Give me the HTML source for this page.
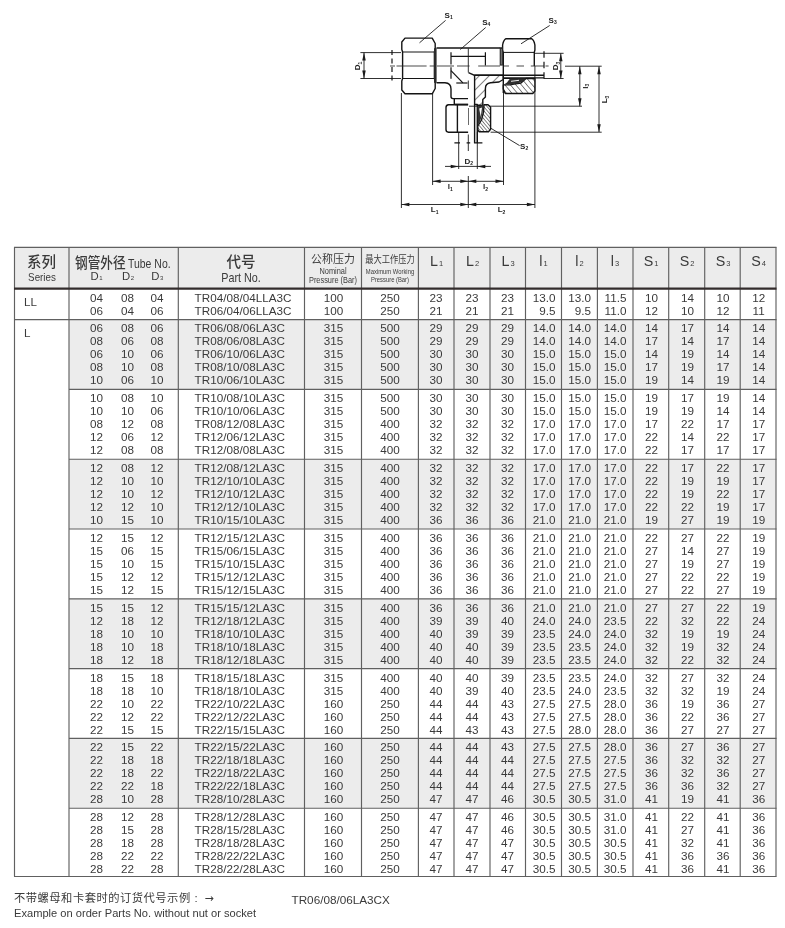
<!DOCTYPE html>
<html lang="zh"><head><meta charset="utf-8"><title>TR Tee</title>
<style>
html,body{margin:0;padding:0;background:#fff;}
body{width:785px;height:928px;overflow:hidden;font-family:"Liberation Sans","Noto Sans CJK SC",sans-serif;color:#3c3c3c;}
#page{position:relative;width:785px;height:928px;overflow:hidden;background:#fff;}
.bg{position:absolute;background:#ececec;}
.vl{position:absolute;width:1.2px;background:#6e6e6e;}
.hl{position:absolute;height:1.2px;background:#6e6e6e;}
.hl.thick{height:2.3px;background:#332c2c;}
.t{position:absolute;font-size:11.7px;line-height:13px;white-space:nowrap;color:#3a3a3a;}
.h{position:absolute;white-space:nowrap;color:#3a3a3a;line-height:1;transform-origin:0 0;}
.hc{position:absolute;white-space:nowrap;color:#3a3a3a;line-height:1;text-align:center;transform-origin:50% 0;}
sub.s{font-size:6px;vertical-align:baseline;margin-left:0.6px;}
.cj{font-family:"Liberation Sans","Noto Sans CJK SC",sans-serif;}
.big{font-size:14.3px;}
sub.s2{font-size:7.5px;vertical-align:baseline;margin-left:1px;}

</style></head><body>
<div id="page">
<svg class="dw" width="785" height="240" viewBox="0 0 785 240" style="position:absolute;left:0;top:0">
<defs>
<pattern id="hat" width="2.6" height="2.6" patternUnits="userSpaceOnUse" patternTransform="rotate(-40)"><rect width="2.6" height="2.6" fill="#fff"/><line x1="0" y1="0" x2="0" y2="2.6" stroke="#222" stroke-width="1.1"/></pattern>
<pattern id="hat3" width="4.2" height="4.2" patternUnits="userSpaceOnUse" patternTransform="rotate(-40)"><rect width="4.2" height="4.2" fill="#fff"/><line x1="0" y1="0" x2="0" y2="4.2" stroke="#222" stroke-width="1.1"/></pattern>
<pattern id="hat2" width="7" height="7" patternUnits="userSpaceOnUse" patternTransform="rotate(45)"><rect width="7" height="7" fill="#fff"/><line x1="0" y1="0" x2="0" y2="7" stroke="#222" stroke-width="1.1"/></pattern>
<path id="ah" d="M0,0 L-8,-1.75 L-8,1.75 Z" fill="#1a1a1a" stroke="none"/>
</defs>
<g fill="none" stroke="#141414" stroke-width="0.9" stroke-linecap="butt" stroke-linejoin="round">
<!-- thin: extension + dimension lines -->
<g stroke-width="0.9" stroke="#1a1a1a">
<line x1="401.4" y1="93" x2="401.4" y2="208"/>
<line x1="432.6" y1="93" x2="432.6" y2="185"/>
<line x1="503.5" y1="66" x2="503.5" y2="185"/>
<line x1="534.9" y1="66" x2="534.9" y2="208"/>
<line x1="468.3" y1="48.5" x2="468.3" y2="72.5"/>
<line x1="468.3" y1="80.5" x2="468.3" y2="89"/>
<line x1="468.3" y1="108" x2="468.3" y2="152" stroke-dasharray="17 9.5 16.5 20"/>
<line x1="468.3" y1="176" x2="468.3" y2="208"/>
<line x1="401.4" y1="204.5" x2="534.9" y2="204.5"/>
<line x1="432.6" y1="181.3" x2="503.5" y2="181.3"/>
<line x1="445" y1="166.4" x2="491" y2="166.4"/>
<line x1="458.7" y1="132" x2="458.7" y2="169"/>
<line x1="477.3" y1="132" x2="477.3" y2="169"/>
<!-- left D1 -->
<line x1="360.4" y1="52.6" x2="401" y2="52.6"/>
<line x1="360.4" y1="78.5" x2="401" y2="78.5"/>
<line x1="364" y1="52.6" x2="364" y2="78.5"/>
<!-- right D3 -->
<line x1="535" y1="53.3" x2="563.6" y2="53.3"/>
<line x1="544" y1="78.5" x2="563.6" y2="78.5"/>
<line x1="560.8" y1="53.3" x2="560.8" y2="78.5"/>
<!-- right l3 L3 -->
<line x1="565" y1="66.2" x2="601.7" y2="66.2"/>
<line x1="579.8" y1="66.2" x2="579.8" y2="106.3"/>
<line x1="599" y1="66.2" x2="599" y2="132"/>
<line x1="469" y1="106.2" x2="582" y2="106.2"/>
<line x1="490.6" y1="132.2" x2="601.7" y2="132.2"/>

</g>
<!-- tube end dashes -->
<g stroke-width="1.2">
<line x1="392" y1="50" x2="392" y2="82" stroke-dasharray="5 3.5"/>
<line x1="544" y1="51.2" x2="544" y2="81" stroke-dasharray="6.5 4"/>
<path d="M454.4,142.9 H460 M466.6,142.9 H470.2 M477.8,142.9 H482.4"/>
</g>
<!-- left nut -->
<g stroke-width="1.4" fill="#fff">
<path d="M405,38.1 H432.2 L435.2,43.5 V49.5 L434.4,52 L434.4,78.5 L435.2,81 V88.5 L432.2,93.8 H405 L401.8,90 V81 L402.6,78.5 V52 L401.8,49.5 V42 Z"/>
<line x1="402.4" y1="52" x2="434.4" y2="52" stroke-width="1"/>
<line x1="402.4" y1="78.5" x2="434.4" y2="78.5" stroke-width="1"/>
</g>
<line x1="435.3" y1="48.2" x2="435.3" y2="82.8" stroke-width="2.6" stroke="#2a2a2a"/>
<!-- body outline -->
<g stroke-width="1.4">
<path d="M436.5,48 H500"/>
<path d="M436.5,82.8 H445 Q451,83.2 451,89 V96.5 Q451,98.6 453,98.6 H468"/>
<path d="M454.3,98.6 V104.2"/>
<!-- bore / section lines -->
<path d="M468.5,72.6 L474,75.2 H544"/>
<path d="M503.3,77.9 H544"/>
<path d="M474.6,104 V142.9 H477.3 V104"/>
</g>
<!-- hidden lines -->
<g stroke-width="1.2">
<path d="M451,52.2 V64.6 M451,67.2 V78.7 M485.4,52.2 V65.5" />
<path d="M451,56.3 H485.4"/>
<path d="M451,70.6 L462.9,82.8"/>
<path d="M456.3,83 H467.5"/>
</g>
<!-- hatched body section -->
<path d="M474.6,75.2 H503.3 V79.5 L499,82 L490.5,82.8 Q485.4,83.4 485.4,88.5 V97.1 L482.8,99.5 V105.2 H477.3 V104.5 H474.6 Z" fill="url(#hat2)" stroke-width="1.4"/>
<!-- right nut upper (external) -->
<g stroke-width="1.4" fill="#fff">
<path d="M503.3,66 V52.4 L502.6,50 V45 Q503.5,40 506,38.7 H531.5 Q534,40 534.9,45 V50 L534.3,52.4 V66"/>
<line x1="503.3" y1="52.4" x2="534.3" y2="52.4" stroke-width="1"/>
</g>
<line x1="501.3" y1="47.2" x2="501.3" y2="65.6" stroke-width="3.2" stroke="#2a2a2a"/>
<line x1="501.3" y1="49" x2="501.3" y2="64.5" stroke-width="0.5" stroke="#ddd"/>
<!-- right nut lower (section) -->
<path d="M503.3,84.9 L510,84.9 L514,84 L521,83 L526,78.5 H534.9 V91 L532.8,93.5 H505.3 L503.3,89 Z" fill="url(#hat3)" stroke-width="1.4"/>
<path d="M503.3,78.5 H526" stroke-width="1"/>
<path d="M510,78.6 L525.7,78.6 L522,82 L517,83.6 L509,84.6 L504,84.4 L507,82.5 Z" fill="#2e2e2e" stroke="none"/>
<path d="M511,81.3 L519,80.3" stroke="#fff" stroke-width="0.9"/>
<path d="M503.3,66 V93" stroke-width="1.4"/>
<!-- bottom nut left (external) -->
<g stroke-width="1.4" fill="#fff">
<path d="M448.5,104.7 H468.1 V132.2 H448.5 Q446,132 446,129.5 V107.5 Q446,105 448.5,104.7 Z" stroke="none"/>
<path d="M468.1,104.7 H448.5 Q446,105 446,107.5 V129.5 Q446,132 448.5,132.2 H468.1" fill="none"/>
<line x1="457.4" y1="104.7" x2="457.4" y2="132.2"/>
<path d="M455,104.4 H468.1" stroke-width="1.6"/>
</g>
<!-- bottom nut right (section) -->
<path d="M484,104.7 H488 L490.6,107.2 V129.2 L488.5,131.7 H479 L477.8,130 V126 L481.5,120 L483.5,112 Z" fill="url(#hat)" stroke-width="1.4"/>
<path d="M477.5,106.5 L483.6,105 L482.6,113 L480.2,121 L477.8,125.6 Z" fill="#333" stroke="none"/>
<path d="M479.2,108.5 L480.7,117 L482,107.5 Z" fill="#fff" stroke="none"/>
<!-- centerline -->
<g stroke-width="0.85" stroke="#2a2a2a">
<path d="M390,66 H395 M396.5,66 H426.6 M429.7,66 H435.8 M437,66 H454 M457,66 H469.6 M478.2,66 H500 M503.5,66 H509 M516.5,66 H524 M530.8,66 H544 M545.5,66 H548.6"/>
</g>
<!-- leaders -->
<g stroke-width="0.9" stroke="#1a1a1a">
<line x1="445.6" y1="20.4" x2="419.5" y2="42.8"/>
<line x1="485.7" y1="27.5" x2="460.3" y2="49.5"/>
<line x1="549.7" y1="25.5" x2="521" y2="43.8"/>
<line x1="519.6" y1="145.6" x2="490.6" y2="128.1"/>
</g>
</g>
<!-- arrowheads -->
<g>
<use href="#ah" transform="translate(401.4,204.5) rotate(180)"/>
<use href="#ah" transform="translate(468.3,204.5)"/>
<use href="#ah" transform="translate(468.3,204.5) rotate(180)"/>
<use href="#ah" transform="translate(534.9,204.5)"/>
<use href="#ah" transform="translate(432.6,181.3) rotate(180)"/>
<use href="#ah" transform="translate(468.3,181.3)"/>
<use href="#ah" transform="translate(468.3,181.3) rotate(180)"/>
<use href="#ah" transform="translate(503.5,181.3)"/>
<use href="#ah" transform="translate(458.7,166.4)"/>
<use href="#ah" transform="translate(477.3,166.4) rotate(180)"/>
<use href="#ah" transform="translate(364,52.6) rotate(-90)"/>
<use href="#ah" transform="translate(364,78.5) rotate(90)"/>
<use href="#ah" transform="translate(560.8,53.3) rotate(-90)"/>
<use href="#ah" transform="translate(560.8,78.5) rotate(90)"/>
<use href="#ah" transform="translate(579.8,66.2) rotate(-90)"/>
<use href="#ah" transform="translate(579.8,106.3) rotate(90)"/>
<use href="#ah" transform="translate(599,66.2) rotate(-90)"/>
<use href="#ah" transform="translate(599,132.2) rotate(90)"/>
</g>
<!-- labels -->
<g font-family="Liberation Sans, sans-serif" font-weight="700" font-size="8" fill="#222" text-anchor="middle">
<text x="448.6" y="17.8">S<tspan font-size="5" dy="1.6">1</tspan></text>
<text x="486.2" y="24.7">S<tspan font-size="5" dy="1.6">4</tspan></text>
<text x="552.6" y="22.5">S<tspan font-size="5" dy="1.6">3</tspan></text>
<text x="524.1" y="148.8">S<tspan font-size="5" dy="1.6">2</tspan></text>
<text x="468.7" y="163.6">D<tspan font-size="5" dy="1.6">2</tspan></text>
<text x="450.3" y="189.4">l<tspan font-size="5" dy="1.6">1</tspan></text>
<text x="485.4" y="189.4">l<tspan font-size="5" dy="1.6">2</tspan></text>
<text x="434.6" y="212.3">L<tspan font-size="5" dy="1.6">1</tspan></text>
<text x="501.5" y="212.3">L<tspan font-size="5" dy="1.6">2</tspan></text>
<text transform="translate(360.3,66) rotate(-90)">D<tspan font-size="5" dy="1.6">1</tspan></text>
<text transform="translate(558,66) rotate(-90)">D<tspan font-size="5" dy="1.6">3</tspan></text>
<text transform="translate(587.7,86.3) rotate(-90)">l<tspan font-size="5" dy="1.6">3</tspan></text>
<text transform="translate(607,99.5) rotate(-90)">L<tspan font-size="5" dy="1.6">3</tspan></text>
</g>
</svg>

<div class="bg" style="left:14.5px;top:247.3px;width:761.5px;height:41.30000000000001px"></div>
<div class="bg" style="left:69px;top:319.6px;width:707px;height:69.80000000000001px"></div>
<div class="bg" style="left:69px;top:459.20000000000005px;width:707px;height:69.79999999999995px"></div>
<div class="bg" style="left:69px;top:598.8px;width:707px;height:69.80000000000007px"></div>
<div class="bg" style="left:69px;top:738.4px;width:707px;height:69.80000000000007px"></div>
<div class="t" style="top:291.45px;left:66.4px;width:60px;text-align:center">04<br>06</div>
<div class="t" style="top:291.45px;left:97.4px;width:60px;text-align:center">08<br>04</div>
<div class="t" style="top:291.45px;left:127px;width:60px;text-align:center">04<br>06</div>
<div class="t" style="top:291.45px;left:194.6px;text-align:left">TR04/08/04LLA3C<br>TR06/04/06LLA3C</div>
<div class="t" style="top:291.45px;left:303.4px;width:60px;text-align:center">100<br>100</div>
<div class="t" style="top:291.45px;left:359.9px;width:60px;text-align:center">250<br>250</div>
<div class="t" style="top:291.45px;left:406px;width:60px;text-align:center">23<br>21</div>
<div class="t" style="top:291.45px;left:442px;width:60px;text-align:center">23<br>21</div>
<div class="t" style="top:291.45px;left:477.5px;width:60px;text-align:center">23<br>21</div>
<div class="t" style="top:291.45px;left:495.5px;width:60px;text-align:right">13.0<br>9.5</div>
<div class="t" style="top:291.45px;left:531.1px;width:60px;text-align:right">13.0<br>9.5</div>
<div class="t" style="top:291.45px;left:566.4px;width:60px;text-align:right">11.5<br>11.0</div>
<div class="t" style="top:291.45px;left:621.5px;width:60px;text-align:center">10<br>12</div>
<div class="t" style="top:291.45px;left:657.4px;width:60px;text-align:center">14<br>10</div>
<div class="t" style="top:291.45px;left:693px;width:60px;text-align:center">10<br>12</div>
<div class="t" style="top:291.45px;left:728.7px;width:60px;text-align:center">12<br>11</div>
<div class="t" style="top:321.45px;left:66.4px;width:60px;text-align:center">06<br>08<br>06<br>08<br>10</div>
<div class="t" style="top:321.45px;left:97.4px;width:60px;text-align:center">08<br>06<br>10<br>10<br>06</div>
<div class="t" style="top:321.45px;left:127px;width:60px;text-align:center">06<br>08<br>06<br>08<br>10</div>
<div class="t" style="top:321.45px;left:194.6px;text-align:left">TR06/08/06LA3C<br>TR08/06/08LA3C<br>TR06/10/06LA3C<br>TR08/10/08LA3C<br>TR10/06/10LA3C</div>
<div class="t" style="top:321.45px;left:303.4px;width:60px;text-align:center">315<br>315<br>315<br>315<br>315</div>
<div class="t" style="top:321.45px;left:359.9px;width:60px;text-align:center">500<br>500<br>500<br>500<br>500</div>
<div class="t" style="top:321.45px;left:406px;width:60px;text-align:center">29<br>29<br>30<br>30<br>30</div>
<div class="t" style="top:321.45px;left:442px;width:60px;text-align:center">29<br>29<br>30<br>30<br>30</div>
<div class="t" style="top:321.45px;left:477.5px;width:60px;text-align:center">29<br>29<br>30<br>30<br>30</div>
<div class="t" style="top:321.45px;left:495.5px;width:60px;text-align:right">14.0<br>14.0<br>15.0<br>15.0<br>15.0</div>
<div class="t" style="top:321.45px;left:531.1px;width:60px;text-align:right">14.0<br>14.0<br>15.0<br>15.0<br>15.0</div>
<div class="t" style="top:321.45px;left:566.4px;width:60px;text-align:right">14.0<br>14.0<br>15.0<br>15.0<br>15.0</div>
<div class="t" style="top:321.45px;left:621.5px;width:60px;text-align:center">14<br>17<br>14<br>17<br>19</div>
<div class="t" style="top:321.45px;left:657.4px;width:60px;text-align:center">17<br>14<br>19<br>19<br>14</div>
<div class="t" style="top:321.45px;left:693px;width:60px;text-align:center">14<br>17<br>14<br>17<br>19</div>
<div class="t" style="top:321.45px;left:728.7px;width:60px;text-align:center">14<br>14<br>14<br>14<br>14</div>
<div class="t" style="top:391.45px;left:66.4px;width:60px;text-align:center">10<br>10<br>08<br>12<br>12</div>
<div class="t" style="top:391.45px;left:97.4px;width:60px;text-align:center">08<br>10<br>12<br>06<br>08</div>
<div class="t" style="top:391.45px;left:127px;width:60px;text-align:center">10<br>06<br>08<br>12<br>08</div>
<div class="t" style="top:391.45px;left:194.6px;text-align:left">TR10/08/10LA3C<br>TR10/10/06LA3C<br>TR08/12/08LA3C<br>TR12/06/12LA3C<br>TR12/08/08LA3C</div>
<div class="t" style="top:391.45px;left:303.4px;width:60px;text-align:center">315<br>315<br>315<br>315<br>315</div>
<div class="t" style="top:391.45px;left:359.9px;width:60px;text-align:center">500<br>500<br>400<br>400<br>400</div>
<div class="t" style="top:391.45px;left:406px;width:60px;text-align:center">30<br>30<br>32<br>32<br>32</div>
<div class="t" style="top:391.45px;left:442px;width:60px;text-align:center">30<br>30<br>32<br>32<br>32</div>
<div class="t" style="top:391.45px;left:477.5px;width:60px;text-align:center">30<br>30<br>32<br>32<br>32</div>
<div class="t" style="top:391.45px;left:495.5px;width:60px;text-align:right">15.0<br>15.0<br>17.0<br>17.0<br>17.0</div>
<div class="t" style="top:391.45px;left:531.1px;width:60px;text-align:right">15.0<br>15.0<br>17.0<br>17.0<br>17.0</div>
<div class="t" style="top:391.45px;left:566.4px;width:60px;text-align:right">15.0<br>15.0<br>17.0<br>17.0<br>17.0</div>
<div class="t" style="top:391.45px;left:621.5px;width:60px;text-align:center">19<br>19<br>17<br>22<br>22</div>
<div class="t" style="top:391.45px;left:657.4px;width:60px;text-align:center">17<br>19<br>22<br>14<br>17</div>
<div class="t" style="top:391.45px;left:693px;width:60px;text-align:center">19<br>14<br>17<br>22<br>17</div>
<div class="t" style="top:391.45px;left:728.7px;width:60px;text-align:center">14<br>14<br>17<br>17<br>17</div>
<div class="t" style="top:461.45px;left:66.4px;width:60px;text-align:center">12<br>12<br>12<br>12<br>10</div>
<div class="t" style="top:461.45px;left:97.4px;width:60px;text-align:center">08<br>10<br>10<br>12<br>15</div>
<div class="t" style="top:461.45px;left:127px;width:60px;text-align:center">12<br>10<br>12<br>10<br>10</div>
<div class="t" style="top:461.45px;left:194.6px;text-align:left">TR12/08/12LA3C<br>TR12/10/10LA3C<br>TR12/10/12LA3C<br>TR12/12/10LA3C<br>TR10/15/10LA3C</div>
<div class="t" style="top:461.45px;left:303.4px;width:60px;text-align:center">315<br>315<br>315<br>315<br>315</div>
<div class="t" style="top:461.45px;left:359.9px;width:60px;text-align:center">400<br>400<br>400<br>400<br>400</div>
<div class="t" style="top:461.45px;left:406px;width:60px;text-align:center">32<br>32<br>32<br>32<br>36</div>
<div class="t" style="top:461.45px;left:442px;width:60px;text-align:center">32<br>32<br>32<br>32<br>36</div>
<div class="t" style="top:461.45px;left:477.5px;width:60px;text-align:center">32<br>32<br>32<br>32<br>36</div>
<div class="t" style="top:461.45px;left:495.5px;width:60px;text-align:right">17.0<br>17.0<br>17.0<br>17.0<br>21.0</div>
<div class="t" style="top:461.45px;left:531.1px;width:60px;text-align:right">17.0<br>17.0<br>17.0<br>17.0<br>21.0</div>
<div class="t" style="top:461.45px;left:566.4px;width:60px;text-align:right">17.0<br>17.0<br>17.0<br>17.0<br>21.0</div>
<div class="t" style="top:461.45px;left:621.5px;width:60px;text-align:center">22<br>22<br>22<br>22<br>19</div>
<div class="t" style="top:461.45px;left:657.4px;width:60px;text-align:center">17<br>19<br>19<br>22<br>27</div>
<div class="t" style="top:461.45px;left:693px;width:60px;text-align:center">22<br>19<br>22<br>19<br>19</div>
<div class="t" style="top:461.45px;left:728.7px;width:60px;text-align:center">17<br>17<br>17<br>17<br>19</div>
<div class="t" style="top:531.45px;left:66.4px;width:60px;text-align:center">12<br>15<br>15<br>15<br>15</div>
<div class="t" style="top:531.45px;left:97.4px;width:60px;text-align:center">15<br>06<br>10<br>12<br>12</div>
<div class="t" style="top:531.45px;left:127px;width:60px;text-align:center">12<br>15<br>15<br>12<br>15</div>
<div class="t" style="top:531.45px;left:194.6px;text-align:left">TR12/15/12LA3C<br>TR15/06/15LA3C<br>TR15/10/15LA3C<br>TR15/12/12LA3C<br>TR15/12/15LA3C</div>
<div class="t" style="top:531.45px;left:303.4px;width:60px;text-align:center">315<br>315<br>315<br>315<br>315</div>
<div class="t" style="top:531.45px;left:359.9px;width:60px;text-align:center">400<br>400<br>400<br>400<br>400</div>
<div class="t" style="top:531.45px;left:406px;width:60px;text-align:center">36<br>36<br>36<br>36<br>36</div>
<div class="t" style="top:531.45px;left:442px;width:60px;text-align:center">36<br>36<br>36<br>36<br>36</div>
<div class="t" style="top:531.45px;left:477.5px;width:60px;text-align:center">36<br>36<br>36<br>36<br>36</div>
<div class="t" style="top:531.45px;left:495.5px;width:60px;text-align:right">21.0<br>21.0<br>21.0<br>21.0<br>21.0</div>
<div class="t" style="top:531.45px;left:531.1px;width:60px;text-align:right">21.0<br>21.0<br>21.0<br>21.0<br>21.0</div>
<div class="t" style="top:531.45px;left:566.4px;width:60px;text-align:right">21.0<br>21.0<br>21.0<br>21.0<br>21.0</div>
<div class="t" style="top:531.45px;left:621.5px;width:60px;text-align:center">22<br>27<br>27<br>27<br>27</div>
<div class="t" style="top:531.45px;left:657.4px;width:60px;text-align:center">27<br>14<br>19<br>22<br>22</div>
<div class="t" style="top:531.45px;left:693px;width:60px;text-align:center">22<br>27<br>27<br>22<br>27</div>
<div class="t" style="top:531.45px;left:728.7px;width:60px;text-align:center">19<br>19<br>19<br>19<br>19</div>
<div class="t" style="top:601.45px;left:66.4px;width:60px;text-align:center">15<br>12<br>18<br>18<br>18</div>
<div class="t" style="top:601.45px;left:97.4px;width:60px;text-align:center">15<br>18<br>10<br>10<br>12</div>
<div class="t" style="top:601.45px;left:127px;width:60px;text-align:center">12<br>12<br>10<br>18<br>18</div>
<div class="t" style="top:601.45px;left:194.6px;text-align:left">TR15/15/12LA3C<br>TR12/18/12LA3C<br>TR18/10/10LA3C<br>TR18/10/18LA3C<br>TR18/12/18LA3C</div>
<div class="t" style="top:601.45px;left:303.4px;width:60px;text-align:center">315<br>315<br>315<br>315<br>315</div>
<div class="t" style="top:601.45px;left:359.9px;width:60px;text-align:center">400<br>400<br>400<br>400<br>400</div>
<div class="t" style="top:601.45px;left:406px;width:60px;text-align:center">36<br>39<br>40<br>40<br>40</div>
<div class="t" style="top:601.45px;left:442px;width:60px;text-align:center">36<br>39<br>39<br>40<br>40</div>
<div class="t" style="top:601.45px;left:477.5px;width:60px;text-align:center">36<br>40<br>39<br>39<br>39</div>
<div class="t" style="top:601.45px;left:495.5px;width:60px;text-align:right">21.0<br>24.0<br>23.5<br>23.5<br>23.5</div>
<div class="t" style="top:601.45px;left:531.1px;width:60px;text-align:right">21.0<br>24.0<br>24.0<br>23.5<br>23.5</div>
<div class="t" style="top:601.45px;left:566.4px;width:60px;text-align:right">21.0<br>23.5<br>24.0<br>24.0<br>24.0</div>
<div class="t" style="top:601.45px;left:621.5px;width:60px;text-align:center">27<br>22<br>32<br>32<br>32</div>
<div class="t" style="top:601.45px;left:657.4px;width:60px;text-align:center">27<br>32<br>19<br>19<br>22</div>
<div class="t" style="top:601.45px;left:693px;width:60px;text-align:center">22<br>22<br>19<br>32<br>32</div>
<div class="t" style="top:601.45px;left:728.7px;width:60px;text-align:center">19<br>24<br>24<br>24<br>24</div>
<div class="t" style="top:671.45px;left:66.4px;width:60px;text-align:center">18<br>18<br>22<br>22<br>22</div>
<div class="t" style="top:671.45px;left:97.4px;width:60px;text-align:center">15<br>18<br>10<br>12<br>15</div>
<div class="t" style="top:671.45px;left:127px;width:60px;text-align:center">18<br>10<br>22<br>22<br>15</div>
<div class="t" style="top:671.45px;left:194.6px;text-align:left">TR18/15/18LA3C<br>TR18/18/10LA3C<br>TR22/10/22LA3C<br>TR22/12/22LA3C<br>TR22/15/15LA3C</div>
<div class="t" style="top:671.45px;left:303.4px;width:60px;text-align:center">315<br>315<br>160<br>160<br>160</div>
<div class="t" style="top:671.45px;left:359.9px;width:60px;text-align:center">400<br>400<br>250<br>250<br>250</div>
<div class="t" style="top:671.45px;left:406px;width:60px;text-align:center">40<br>40<br>44<br>44<br>44</div>
<div class="t" style="top:671.45px;left:442px;width:60px;text-align:center">40<br>39<br>44<br>44<br>43</div>
<div class="t" style="top:671.45px;left:477.5px;width:60px;text-align:center">39<br>40<br>43<br>43<br>43</div>
<div class="t" style="top:671.45px;left:495.5px;width:60px;text-align:right">23.5<br>23.5<br>27.5<br>27.5<br>27.5</div>
<div class="t" style="top:671.45px;left:531.1px;width:60px;text-align:right">23.5<br>24.0<br>27.5<br>27.5<br>28.0</div>
<div class="t" style="top:671.45px;left:566.4px;width:60px;text-align:right">24.0<br>23.5<br>28.0<br>28.0<br>28.0</div>
<div class="t" style="top:671.45px;left:621.5px;width:60px;text-align:center">32<br>32<br>36<br>36<br>36</div>
<div class="t" style="top:671.45px;left:657.4px;width:60px;text-align:center">27<br>32<br>19<br>22<br>27</div>
<div class="t" style="top:671.45px;left:693px;width:60px;text-align:center">32<br>19<br>36<br>36<br>27</div>
<div class="t" style="top:671.45px;left:728.7px;width:60px;text-align:center">24<br>24<br>27<br>27<br>27</div>
<div class="t" style="top:740.45px;left:66.4px;width:60px;text-align:center">22<br>22<br>22<br>22<br>28</div>
<div class="t" style="top:740.45px;left:97.4px;width:60px;text-align:center">15<br>18<br>18<br>22<br>10</div>
<div class="t" style="top:740.45px;left:127px;width:60px;text-align:center">22<br>18<br>22<br>18<br>28</div>
<div class="t" style="top:740.45px;left:194.6px;text-align:left">TR22/15/22LA3C<br>TR22/18/18LA3C<br>TR22/18/22LA3C<br>TR22/22/18LA3C<br>TR28/10/28LA3C</div>
<div class="t" style="top:740.45px;left:303.4px;width:60px;text-align:center">160<br>160<br>160<br>160<br>160</div>
<div class="t" style="top:740.45px;left:359.9px;width:60px;text-align:center">250<br>250<br>250<br>250<br>250</div>
<div class="t" style="top:740.45px;left:406px;width:60px;text-align:center">44<br>44<br>44<br>44<br>47</div>
<div class="t" style="top:740.45px;left:442px;width:60px;text-align:center">44<br>44<br>44<br>44<br>47</div>
<div class="t" style="top:740.45px;left:477.5px;width:60px;text-align:center">43<br>44<br>44<br>44<br>46</div>
<div class="t" style="top:740.45px;left:495.5px;width:60px;text-align:right">27.5<br>27.5<br>27.5<br>27.5<br>30.5</div>
<div class="t" style="top:740.45px;left:531.1px;width:60px;text-align:right">27.5<br>27.5<br>27.5<br>27.5<br>30.5</div>
<div class="t" style="top:740.45px;left:566.4px;width:60px;text-align:right">28.0<br>27.5<br>27.5<br>27.5<br>31.0</div>
<div class="t" style="top:740.45px;left:621.5px;width:60px;text-align:center">36<br>36<br>36<br>36<br>41</div>
<div class="t" style="top:740.45px;left:657.4px;width:60px;text-align:center">27<br>32<br>32<br>36<br>19</div>
<div class="t" style="top:740.45px;left:693px;width:60px;text-align:center">36<br>32<br>36<br>32<br>41</div>
<div class="t" style="top:740.45px;left:728.7px;width:60px;text-align:center">27<br>27<br>27<br>27<br>36</div>
<div class="t" style="top:810.45px;left:66.4px;width:60px;text-align:center">28<br>28<br>28<br>28<br>28</div>
<div class="t" style="top:810.45px;left:97.4px;width:60px;text-align:center">12<br>15<br>18<br>22<br>22</div>
<div class="t" style="top:810.45px;left:127px;width:60px;text-align:center">28<br>28<br>28<br>22<br>28</div>
<div class="t" style="top:810.45px;left:194.6px;text-align:left">TR28/12/28LA3C<br>TR28/15/28LA3C<br>TR28/18/28LA3C<br>TR28/22/22LA3C<br>TR28/22/28LA3C</div>
<div class="t" style="top:810.45px;left:303.4px;width:60px;text-align:center">160<br>160<br>160<br>160<br>160</div>
<div class="t" style="top:810.45px;left:359.9px;width:60px;text-align:center">250<br>250<br>250<br>250<br>250</div>
<div class="t" style="top:810.45px;left:406px;width:60px;text-align:center">47<br>47<br>47<br>47<br>47</div>
<div class="t" style="top:810.45px;left:442px;width:60px;text-align:center">47<br>47<br>47<br>47<br>47</div>
<div class="t" style="top:810.45px;left:477.5px;width:60px;text-align:center">46<br>46<br>47<br>47<br>47</div>
<div class="t" style="top:810.45px;left:495.5px;width:60px;text-align:right">30.5<br>30.5<br>30.5<br>30.5<br>30.5</div>
<div class="t" style="top:810.45px;left:531.1px;width:60px;text-align:right">30.5<br>30.5<br>30.5<br>30.5<br>30.5</div>
<div class="t" style="top:810.45px;left:566.4px;width:60px;text-align:right">31.0<br>31.0<br>30.5<br>30.5<br>30.5</div>
<div class="t" style="top:810.45px;left:621.5px;width:60px;text-align:center">41<br>41<br>41<br>41<br>41</div>
<div class="t" style="top:810.45px;left:657.4px;width:60px;text-align:center">22<br>27<br>32<br>36<br>36</div>
<div class="t" style="top:810.45px;left:693px;width:60px;text-align:center">41<br>41<br>41<br>36<br>41</div>
<div class="t" style="top:810.45px;left:728.7px;width:60px;text-align:center">36<br>36<br>36<br>36<br>36</div>
<svg class="ln" width="785" height="928" viewBox="0 0 785 928" style="position:absolute;left:0;top:0">
<g stroke="#606060" stroke-width="1.15" fill="none">
<line x1="14.5" y1="247.3" x2="14.5" y2="876.5"/>
<line x1="69" y1="247.3" x2="69" y2="876.5"/>
<line x1="178.3" y1="247.3" x2="178.3" y2="876.5"/>
<line x1="304.5" y1="247.3" x2="304.5" y2="876.5"/>
<line x1="361.5" y1="247.3" x2="361.5" y2="876.5"/>
<line x1="418.4" y1="247.3" x2="418.4" y2="876.5"/>
<line x1="454" y1="247.3" x2="454" y2="876.5"/>
<line x1="490" y1="247.3" x2="490" y2="876.5"/>
<line x1="525.5" y1="247.3" x2="525.5" y2="876.5"/>
<line x1="561.5" y1="247.3" x2="561.5" y2="876.5"/>
<line x1="597.4" y1="247.3" x2="597.4" y2="876.5"/>
<line x1="633" y1="247.3" x2="633" y2="876.5"/>
<line x1="668.7" y1="247.3" x2="668.7" y2="876.5"/>
<line x1="704.7" y1="247.3" x2="704.7" y2="876.5"/>
<line x1="740.2" y1="247.3" x2="740.2" y2="876.5"/>
<line x1="776" y1="247.3" x2="776" y2="876.5"/>
<line x1="14.0" y1="247.3" x2="776.5" y2="247.3"/>
<line x1="14.0" y1="319.6" x2="776.5" y2="319.6"/>
<line x1="69" y1="389.40" x2="776.5" y2="389.40"/>
<line x1="69" y1="459.20" x2="776.5" y2="459.20"/>
<line x1="69" y1="529.00" x2="776.5" y2="529.00"/>
<line x1="69" y1="598.80" x2="776.5" y2="598.80"/>
<line x1="69" y1="668.60" x2="776.5" y2="668.60"/>
<line x1="69" y1="738.40" x2="776.5" y2="738.40"/>
<line x1="69" y1="808.20" x2="776.5" y2="808.20"/>
<line x1="14.0" y1="876.5" x2="776.5" y2="876.5"/>
</g>
<line x1="14.0" y1="288.6" x2="776.5" y2="288.6" stroke="#332c2c" stroke-width="2.3"/>
</svg>
<!-- header labels -->
<div class="hc cj" style="left:11.5px;width:60px;top:254.5px;font-size:14.5px;font-weight:500;">系列</div>
<div class="hc" style="left:11.5px;width:60px;top:272px;font-size:11.4px;transform:scaleX(.86);">Series</div>

<div class="h" style="left:74.5px;top:254.5px;"><span class="cj" style="font-size:14.4px;font-weight:500;display:inline-block;transform:scaleX(.88);transform-origin:0 50%;">钢管外径</span></div>
<div class="h" style="left:127.5px;top:258.3px;font-size:12.6px;transform:scaleX(.83);">Tube No.</div>
<div class="h" style="left:90.5px;top:270.6px;font-size:11.3px;">D<sub class="s">1</sub></div>
<div class="h" style="left:121.9px;top:270.6px;font-size:11.3px;">D<sub class="s">2</sub></div>
<div class="h" style="left:151.3px;top:270.6px;font-size:11.3px;">D<sub class="s">3</sub></div>

<div class="hc cj" style="left:211px;width:60px;top:254.5px;font-size:14.5px;font-weight:500;">代号</div>
<div class="hc" style="left:211px;width:60px;top:272px;font-size:12.4px;transform:scaleX(.87);">Part No.</div>

<div class="hc cj" style="left:293px;width:80px;top:253.5px;font-size:11.3px;font-weight:400;transform:scaleX(.97);">公称压力</div>
<div class="hc" style="left:293px;width:80px;top:266.7px;font-size:8.6px;transform:scaleX(.86);">Nominal</div>
<div class="hc" style="left:293px;width:80px;top:276px;font-size:8.6px;transform:scaleX(.86);">Pressure (Bar)</div>

<div class="hc cj" style="left:340px;width:100px;top:253.5px;font-size:10.6px;font-weight:400;transform:scaleX(.78);">最大工作压力</div>
<div class="hc" style="left:340px;width:100px;top:267.6px;font-size:7.8px;transform:scaleX(.75);">Maximum Working</div>
<div class="hc" style="left:340px;width:100px;top:275.8px;font-size:7.8px;transform:scaleX(.75);">Pressure (Bar)</div>

<div class="hc big" style="left:406.5px;width:60px;top:254.3px;">L<sub class="s2">1</sub></div>
<div class="hc big" style="left:442.5px;width:60px;top:254.3px;">L<sub class="s2">2</sub></div>
<div class="hc big" style="left:478px;width:60px;top:254.3px;">L<sub class="s2">3</sub></div>
<div class="hc big" style="left:513.5px;width:60px;top:254.3px;">l<sub class="s2">1</sub></div>
<div class="hc big" style="left:549.5px;width:60px;top:254.3px;">l<sub class="s2">2</sub></div>
<div class="hc big" style="left:585px;width:60px;top:254.3px;">l<sub class="s2">3</sub></div>
<div class="hc big" style="left:621px;width:60px;top:254.3px;">S<sub class="s2">1</sub></div>
<div class="hc big" style="left:657px;width:60px;top:254.3px;">S<sub class="s2">2</sub></div>
<div class="hc big" style="left:693px;width:60px;top:254.3px;">S<sub class="s2">3</sub></div>
<div class="hc big" style="left:728.5px;width:60px;top:254.3px;">S<sub class="s2">4</sub></div>

<!-- series labels -->
<div class="h" style="left:24px;top:296.2px;font-size:11.6px;transform:scaleX(1);">LL</div>
<div class="h" style="left:24px;top:326.8px;font-size:11.6px;transform:scaleX(1);">L</div>

<!-- footer -->
<div class="h cj" style="left:14px;top:893.2px;font-size:11.3px;letter-spacing:0.48px;">不带螺母和卡套时的订货代号示例</div>
<div class="h cj" style="left:194.5px;top:893.2px;font-size:11.3px;">:</div>
<div class="h" style="left:204.5px;top:892.8px;font-size:11px;font-family:'DejaVu Sans',sans-serif;">→</div>
<div class="h" style="left:291.5px;top:893.8px;font-size:11.72px;">TR06/08/06LA3CX</div>
<div class="h" style="left:14.2px;top:908px;font-size:11px;transform:scaleX(1.01);">Example on order Parts No. without nut or socket</div>

</div>
</body></html>
